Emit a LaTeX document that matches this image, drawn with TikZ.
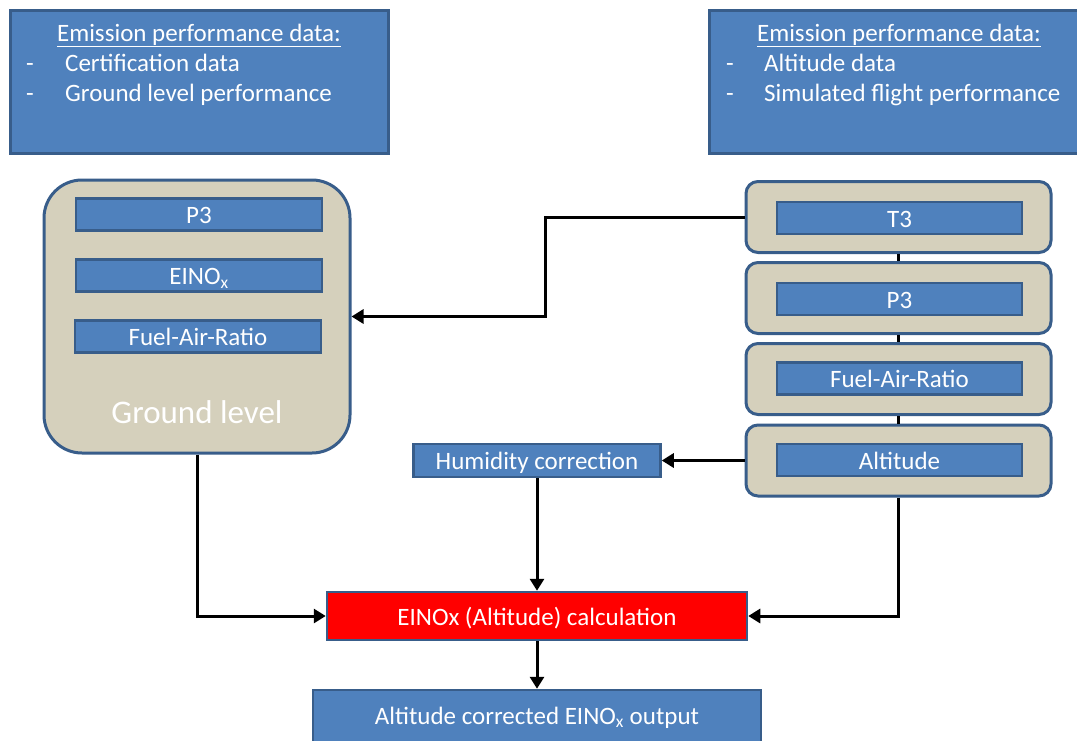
\documentclass[tikz,border=0pt]{standalone}
\usepackage{fontspec}
\setmainfont{Carlito}
\usetikzlibrary{positioning, arrows.meta, calc}
\definecolor{steel}{RGB}{79,129,189}
\definecolor{steeledge}{RGB}{56,93,138}
\definecolor{sand}{RGB}{213,208,188}
\definecolor{flag}{RGB}{255,0,0}

\begin{document}
\begin{tikzpicture}[
  x=1pt, y=-1pt,
  txt/.style={text=white, font=\fontsize{25}{30}\selectfont, text height=20pt,
              text depth=2pt},
  info/.style={draw=steeledge, fill=steel, line width=3pt, minimum width=378pt,
               minimum height=143pt, inner sep=0pt},
  bar/.style={txt, draw=steeledge, fill=steel, line width=2.5pt, inner sep=0pt,
              minimum width=246pt, minimum height=32pt},
  panel/.style={draw=steeledge, fill=sand, line width=3pt, rounded corners=38pt,
                minimum width=306pt, minimum height=273pt, inner sep=0pt},
  stack/.style={draw=steeledge, fill=sand, line width=3pt, rounded corners=12pt,
                minimum width=305pt, minimum height=71pt, inner sep=0pt},
  calc/.style={bar, fill=flag, minimum width=420pt, minimum height=48pt},
  flow/.style={-{Triangle[length=12pt, width=14pt]}, line width=3pt},
  tie/.style={line width=3pt}]
  \clip (0,0) rectangle (1077,740);
  \fill[white] (0,0) rectangle (1077,740);

  % data sources
  \node[info] (certbox) at (199, 81.5) {};
  \node[txt] (certhead) at (199, 32) {\underline{Emission performance data:}};
  \node[txt] (certdash1) at (30, 62) {-};
  \node[txt, anchor=west, inner sep=0pt] (certitem1) at (65, 62) {Certification data};
  \node[txt] (certdash2) at (30, 92) {-};
  \node[txt, anchor=west, inner sep=0pt] (certitem2) at (65, 92) {Ground level performance};

  \node[info, minimum width=380pt] (simbox) at (899, 81.5) {};
  \node[txt] (simhead) at (899, 32) {\underline{Emission performance data:}};
  \node[txt] (simdash1) at (730, 62) {-};
  \node[txt, anchor=west, inner sep=0pt] (simitem1) at (764, 62) {Altitude data};
  \node[txt] (simdash2) at (730, 92) {-};
  \node[txt, anchor=west, inner sep=0pt] (simitem2) at (764, 92) {Simulated flight performance};

  % ground level
  \node[panel] (ground) at (197, 316.5) {};
  \node[bar] (gp3) at (199, 214.5) {P3};
  \node[bar] (geinox) at (199, 275.5) {EINO\textsubscript{x}};
  \node[bar] (gfar) at (198, 336.5) {Fuel-Air-Ratio};
  \node[txt, font=\fontsize{33}{38}\selectfont] (glabel) at (197, 414) {Ground level};

  % altitude stack
  \node[stack] (t3box) at (898.5, 217) {};
  \node[stack] (p3box) at (898.5, 298) {};
  \node[stack] (farbox) at (898.5, 379) {};
  \node[stack] (altbox) at (898.5, 460.5) {};
  \node[bar, minimum width=245pt] (at3) at (899.5, 218) {T3};
  \node[bar, minimum width=245pt] (ap3) at (899.5, 299) {P3};
  \node[bar, minimum width=245pt] (afar) at (899.5, 378.5) {Fuel-Air-Ratio};
  \node[bar, minimum width=245pt] (aalt) at (899.5, 460) {Altitude};
  \draw[tie] (t3box.south) -- (p3box.north);
  \draw[tie] (p3box.south) -- (farbox.north);
  \draw[tie] (farbox.south) -- (altbox.north);

  % processing
  \node[bar, minimum width=247pt, minimum height=33pt] (humid) at (537, 460.5) {Humidity correction};
  \node[calc] (calc) at (537, 616) {EINOx (Altitude) calculation};
  \node[bar, minimum width=448pt, minimum height=60pt, text height=34pt, text depth=26pt]
    (output) at (537, 720) {Altitude corrected EINO\textsubscript{x} output};

  \draw[flow] (t3box.west) -- ++(-199,0) |- (ground.east);
  \draw[flow] (altbox.west) -- (humid.east);
  \draw[flow] (humid.south) -- (calc.north);
  \draw[flow] (ground.south) |- (calc.west);
  \draw[flow] (altbox.south) |- (calc.east);
  \draw[flow] (calc.south) -- (output.north);
\end{tikzpicture}
\end{document}
